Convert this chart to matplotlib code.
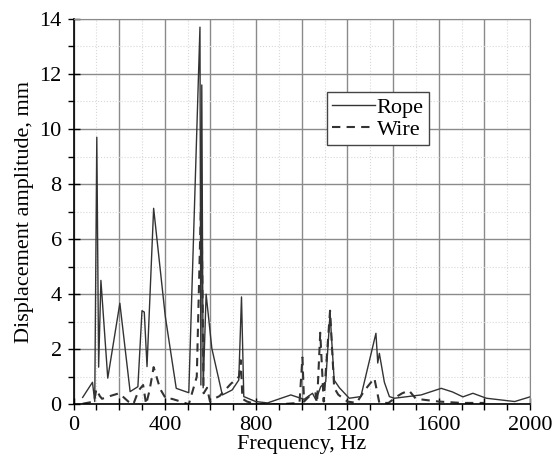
import matplotlib
matplotlib.use("Agg")
import matplotlib.pyplot as plt
from matplotlib.ticker import MultipleLocator, FuncFormatter

plt.rcParams['font.family'] = ['Liberation Serif', 'DejaVu Serif']
plt.rcParams['font.size'] = 16

# rope (solid) readings
rope_f = [40, 83, 93, 102, 110, 120, 150, 203, 248, 282, 300, 310, 322, 351, 402, 450,
          505, 554, 558, 562, 568, 581, 606, 652, 695, 724, 736, 746, 798, 850, 952,
          1010, 1047, 1062, 1083, 1105, 1124, 1142, 1165, 1208, 1259, 1325, 1333, 1340,
          1362, 1384, 1406, 1523, 1611, 1660, 1706, 1750, 1809, 1933, 2000]
rope_a = [0.25, 0.8, 0.1, 9.7, 1.35, 4.5, 0.95, 3.67, 0.46, 0.64, 3.4, 3.35, 1.37, 7.12, 3.2, 0.58,
          0.42, 13.7, 0.7, 11.6, 0.6, 4.0, 2.03, 0.34, 0.52, 0.88, 3.9, 0.28, 0.1, 0.05, 0.34,
          0.18, 0.4, 0.16, 0.64, 0.82, 3.3, 0.88, 0.6, 0.22, 0.28, 2.58, 1.5, 1.85,
          0.8, 0.28, 0.22, 0.34, 0.58, 0.45, 0.27, 0.4, 0.22, 0.1, 0.27]

# wire (dashed) readings
wire_f = [40, 90, 100, 115, 125, 160, 200, 240, 262, 285, 305, 318, 333, 351, 380, 405, 430,
          470, 505, 540, 560, 570, 585, 598, 615, 640, 690, 725, 733, 740, 760, 800, 900,
          990, 1003, 1010, 1040, 1060, 1067, 1081, 1096, 1124, 1142, 1160, 1200, 1240,
          1275, 1318, 1340, 1380, 1420, 1440, 1470, 1500, 1600, 1700, 1800]
wire_a = [0.02, 0.1, 0.55, 0.3, 0.2, 0.3, 0.4, 0.1, 0.0, 0.5, 0.7, 0.0, 0.5, 1.35, 0.55, 0.2, 0.2,
          0.1, 0.0, 1.0, 7.8, 0.4, 0.6, 0.1, 0.2, 0.3, 0.75, 1.0, 1.6, 0.2, 0.1, 0.0, 0.0,
          0.05, 1.7, 0.1, 0.35, 0.4, 0.05, 2.6, 0.1, 3.4, 0.6, 0.35, 0.1, 0.05,
          0.5, 0.95, 0.05, 0.05, 0.3, 0.4, 0.5, 0.2, 0.1, 0.05, 0.05]

fig = plt.figure(figsize=(5.57, 4.61), dpi=100)
ax = fig.add_axes([0.132, 0.123, 0.8195, 0.836])

ax.plot(rope_f, rope_a, '-', color='#333333', lw=1.0, label='Rope')
ax.plot(wire_f, wire_a, '--', color='#333333', lw=1.5, dashes=(4, 3), label='Wire')

ax.set_xlim(0, 2000)
ax.set_ylim(0, 14)
ax.xaxis.set_major_locator(MultipleLocator(200))
ax.xaxis.set_minor_locator(MultipleLocator(100))
ax.yaxis.set_major_locator(MultipleLocator(2))
ax.yaxis.set_minor_locator(MultipleLocator(1))
ax.xaxis.set_major_formatter(FuncFormatter(lambda v, p: f"{int(v)}" if int(v) % 400 == 0 else ""))

ax.grid(which='major', color='#8a8a8a', lw=1.0)
ax.grid(which='minor', color='#d8d8d8', lw=0.8, ls=':')
ax.set_axisbelow(True)

ax.tick_params(which='major', direction='inout', length=9, width=1, pad=4)
ax.tick_params(which='minor', direction='out', length=4, width=1)
for s in ['top', 'right']:
    ax.spines[s].set_color('#8a8a8a')
for s in ['left', 'bottom']:
    ax.spines[s].set_linewidth(1.2)

ax.set_xlabel('Frequency, Hz', labelpad=0)
ax.set_ylabel('Displacement amplitude, mm', labelpad=4)

leg = ax.legend(loc='upper left', bbox_to_anchor=(0.555, 0.81), borderaxespad=0,
                fancybox=False, edgecolor='#444444', framealpha=1,
                handlelength=1.9, handletextpad=0.1, labelspacing=0.05, borderpad=0.25)
leg.get_frame().set_linewidth(1.0)

fig.savefig('out.png', dpi=100)
